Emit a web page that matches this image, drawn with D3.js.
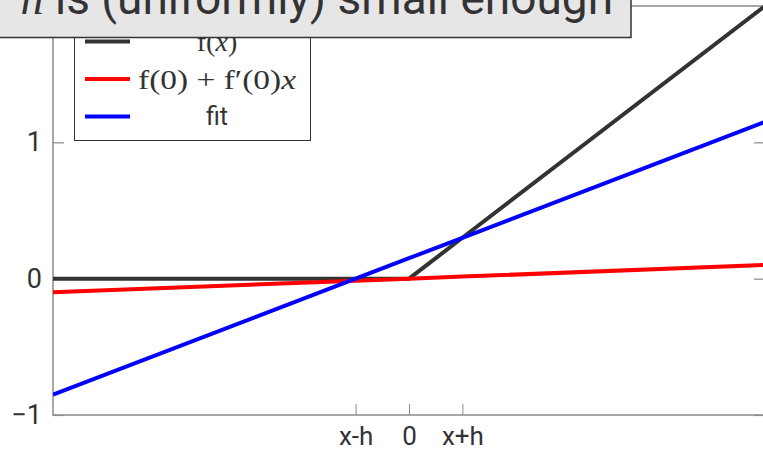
<!DOCTYPE html>
<html>
<head>
<meta charset="utf-8">
<script src="https://cdn.jsdelivr.net/npm/d3@7"></script>
<style>
  html, body { margin: 0; padding: 0; background: #fff; overflow: hidden; }
  svg { display: block; }
</style>
</head>
<body>
<svg id="chart" width="763" height="450"></svg>
<script>
// Sample points along x (x = 0, h = 0.3) and the three curves at those points
const xSamples     = [-2, -0.3, 0, 0.3, 2];
const reluValues   = [0, 0, 0, 0.3, 2];            // f(x) = max(0, x)
const tangentValues = [-0.1, -0.015, 0, 0.015, 0.1]; // f(0) + f'(0) x
const fitValues    = [-0.85, 0, 0.15, 0.3, 1.15];  // secant through x-h and x+h

const xTickValues = [-0.3, 0, 0.3];
const xTickLabels = ["x-h", "0", "x+h"];
const yTickValues = [-1, 0, 1];
const yTickLabels = ["\u22121", "0", "1"];

const seriesNames  = ["f(x)", "f(0) + f\u2032(0)x", "fit"];
const seriesColors = ["#333333", "#ff0000", "#0000ff"];

const svg = d3.select("#chart");
const plot = { left: 53, right: 765, top: 6, bottom: 415 };

const x = d3.scaleLinear().domain([-2, 2]).range([plot.left, plot.right]);
const y = d3.scaleLinear().domain([-1, 2]).range([plot.bottom, plot.top]);

const axisColor = "#8a8a8a";
const textColor = "#333333";

// Plot frame
svg.append("rect")
  .attr("x", plot.left).attr("y", plot.top)
  .attr("width", plot.right - plot.left).attr("height", plot.bottom - plot.top)
  .attr("fill", "none").attr("stroke", axisColor).attr("stroke-width", 1.5);

// Inward ticks on all four sides
const tickLen = 11;
const xAxisB = d3.axisBottom(x).tickValues(xTickValues).tickSizeInner(-tickLen).tickSizeOuter(0)
  .tickFormat((d, i) => xTickLabels[i]);
const gx = svg.append("g").attr("transform", `translate(0,${plot.bottom})`).call(xAxisB);
gx.select(".domain").remove();
gx.selectAll("line").attr("stroke", axisColor).attr("stroke-width", 1);
gx.selectAll("text").attr("fill", textColor).attr("font-family", "Roboto, sans-serif")
  .attr("font-size", 26).attr("y", 29.5).attr("dy", 0);

const xAxisT = d3.axisTop(x).tickValues(xTickValues).tickSizeInner(-tickLen).tickSizeOuter(0).tickFormat("");
const gxt = svg.append("g").attr("transform", `translate(0,${plot.top})`).call(xAxisT);
gxt.select(".domain").remove();
gxt.selectAll("line").attr("stroke", axisColor).attr("stroke-width", 1);

const yAxisL = d3.axisLeft(y).tickValues(yTickValues).tickSizeInner(-tickLen).tickSizeOuter(0)
  .tickFormat((d, i) => yTickLabels[i]).tickPadding(11);
const gy = svg.append("g").attr("transform", `translate(${plot.left},0)`).call(yAxisL);
gy.select(".domain").remove();
gy.selectAll("line").attr("stroke", axisColor).attr("stroke-width", 1.2);
gy.selectAll("text").attr("fill", textColor).attr("font-family", "Roboto, sans-serif")
  .attr("font-size", 27);

const yAxisR = d3.axisRight(y).tickValues(yTickValues).tickSizeInner(-tickLen).tickSizeOuter(0).tickFormat("");
const gyr = svg.append("g").attr("transform", `translate(${plot.right},0)`).call(yAxisR);
gyr.select(".domain").remove();
gyr.selectAll("line").attr("stroke", axisColor).attr("stroke-width", 1.2);

// Curves
svg.append("clipPath").attr("id", "plotclip").append("rect")
  .attr("x", plot.left).attr("y", plot.top - 3)
  .attr("width", plot.right - plot.left).attr("height", plot.bottom - plot.top + 3);

const line = d3.line().x(d => x(d[0])).y(d => y(d[1]));
const seriesValues = [reluValues, tangentValues, fitValues];
svg.append("g").attr("clip-path", "url(#plotclip)")
  .selectAll("path").data(seriesValues).join("path")
  .attr("d", vals => line(xSamples.map((xv, i) => [xv, vals[i]])))
  .attr("fill", "none")
  .attr("stroke", (d, i) => seriesColors[i])
  .attr("stroke-width", 4)
  .attr("stroke-linejoin", "miter");

// Legend
const legend = svg.append("g");
legend.append("rect")
  .attr("x", 74.5).attr("y", 16).attr("width", 236).attr("height", 124.5)
  .attr("fill", "#fff").attr("stroke", textColor).attr("stroke-width", 1);

const rowY = [41.5, 79, 116.5];
seriesNames.forEach((name, i) => {
  legend.append("line")
    .attr("x1", 85).attr("x2", 130).attr("y1", rowY[i]).attr("y2", rowY[i])
    .attr("stroke", seriesColors[i]).attr("stroke-width", 4);
});

const mathFont = "'Liberation Serif', 'DejaVu Serif', serif";
// f(x)
const t0 = legend.append("text").attr("x", 217).attr("y", rowY[0] + 9.5)
  .attr("text-anchor", "middle").attr("font-family", mathFont).attr("font-size", 28).attr("fill", textColor);
t0.append("tspan").text("f(");
t0.append("tspan").attr("font-style", "italic").text("x");
t0.append("tspan").text(")");
// f(0) + f'(0)x
const t1 = legend.append("text").attr("x", 138).attr("y", rowY[1] + 9.5)
  .attr("font-family", mathFont).attr("font-size", 28).attr("fill", textColor)
  .attr("textLength", 158).attr("lengthAdjust", "spacingAndGlyphs");
t1.append("tspan").text("f(0) + f\u2032(0)");
t1.append("tspan").attr("font-style", "italic").text("x");
// fit
legend.append("text").attr("x", 217).attr("y", rowY[2] + 8.5)
  .attr("text-anchor", "middle").attr("font-family", "Roboto, sans-serif")
  .attr("font-size", 25).attr("fill", textColor).text(seriesNames[2]);

// Title banner
const banner = svg.append("g");
banner.append("rect")
  .attr("x", -10).attr("y", -20).attr("width", 641).attr("height", 57.5)
  .attr("fill", "#e6e6e6").attr("stroke", textColor).attr("stroke-width", 1.5);
const title = banner.append("text")
  .attr("x", 613).attr("y", 14).attr("text-anchor", "end")
  .attr("font-family", "Roboto, sans-serif").attr("font-size", 46).attr("fill", textColor);
title.append("tspan").attr("font-family", mathFont).attr("font-style", "italic").text("h");
title.append("tspan").text(" is (uniformly) small enough");
</script>
</body>
</html>
